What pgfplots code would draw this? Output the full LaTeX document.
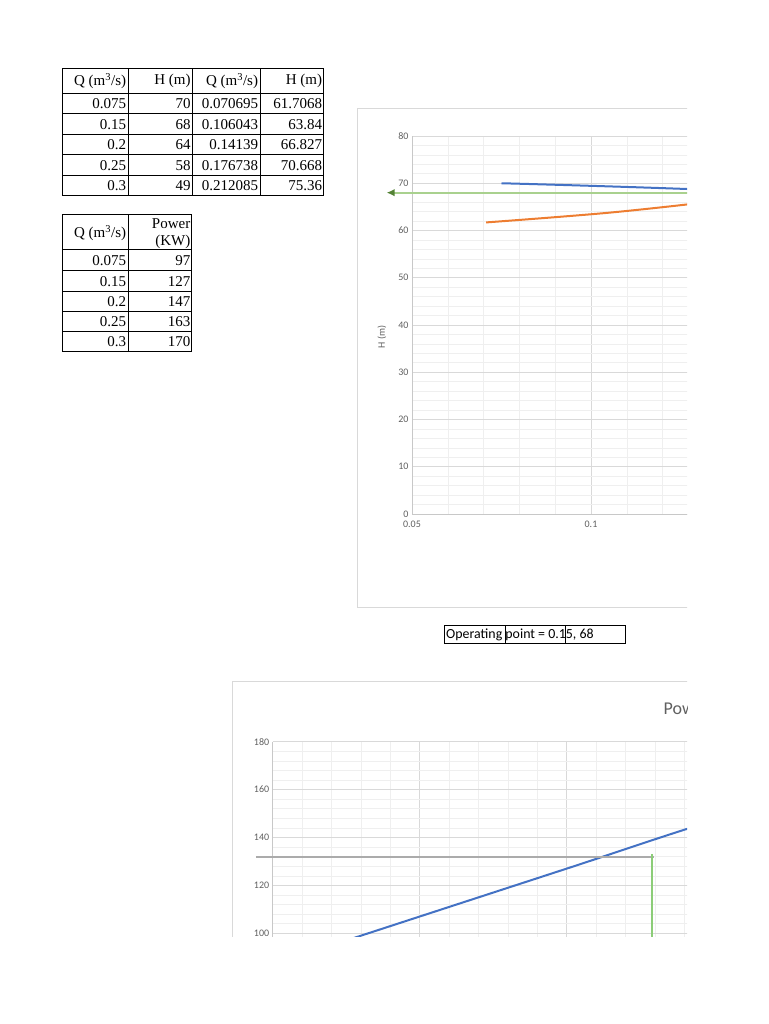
\documentclass[border=0pt]{standalone}
\usepackage{pgfplots}
\pgfplotsset{compat=1.18}
\usepackage{fontspec}
\setmainfont{Liberation Serif}
\newfontfamily\carlito{Carlito}
\usetikzlibrary{arrows.meta}

\definecolor{gridmaj}{HTML}{D9D9D9}
\definecolor{gridmin}{HTML}{EFEFEF}
\definecolor{axisgray}{HTML}{C8C8C8}
\definecolor{tickgray}{HTML}{606060}
\definecolor{framegray}{HTML}{D9D9D9}
\definecolor{xlblue}{HTML}{4472C4}
\definecolor{xlorange}{HTML}{ED7D31}
\definecolor{paleg}{HTML}{A9D18E}
\definecolor{darkg}{HTML}{548235}
\definecolor{brightg}{RGB}{140,205,120}
\definecolor{refgray}{HTML}{ABABAB}

\newcommand{\tabfont}{\fontsize{15}{16}\selectfont}
\newcommand{\msq}{m\textsuperscript{3}/s}

% shared look of the two Excel-like charts
\pgfplotsset{xlchart/.style={
  scale only axis, clip=false,
  grid=both,
  major grid style={draw=gridmaj, line width=0.8pt},
  minor grid style={draw=gridmin, line width=0.6pt},
  axis x line*=bottom, axis y line*=left,
  axis line style={draw=axisgray, line width=0.9pt},
  major tick length=0pt, minor tick length=0pt,
  /pgf/number format/assume math mode=true,
  scaled x ticks=false,
  xticklabel style={/pgf/number format/fixed, /pgf/number format/precision=3, yshift=-3pt},
  ticklabel style={font=\carlito\fontsize{10}{12}\selectfont, text=tickgray},
  label style={font=\carlito\fontsize{10}{12}\selectfont, text=tickgray},
}}

\begin{document}
\begin{tikzpicture}[x=1pt,y=1pt]
\path[use as bounding box] (0,0) rectangle (768,1024);
\begin{scope}
\clip (0,87) rectangle (687,1024);

% ---------- table 1 : pump and system curve ----------
\node[anchor=east, inner sep=0pt, font=\tabfont] at (126.3,{1024-80.8}) {Q (\msq)};
\node[anchor=east, inner sep=0pt, font=\tabfont] at (190.8,{1024-80.8}) {H (m)};
\node[anchor=east, inner sep=0pt, font=\tabfont] at (258.2,{1024-80.8}) {Q (\msq)};
\node[anchor=east, inner sep=0pt, font=\tabfont] at (322.3,{1024-80.8}) {H (m)};
\foreach \y/\a/\b/\c/\d in {103.7/0.075/70/0.070695/61.7068,
                            124.3/0.15/68/0.106043/63.84,
                            144.8/0.2/64/0.14139/66.827,
                            165.2/0.25/58/0.176738/70.668,
                            185.5/0.3/49/0.212085/75.36} {
  \node[anchor=east, inner sep=0pt, font=\tabfont] at (126.3,{1024-\y}) {\a};
  \node[anchor=east, inner sep=0pt, font=\tabfont] at (190.8,{1024-\y}) {\b};
  \node[anchor=east, inner sep=0pt, font=\tabfont] at (258.2,{1024-\y}) {\c};
  \node[anchor=east, inner sep=0pt, font=\tabfont] at (322.3,{1024-\y}) {\d};
}
\draw[line width=1pt] (62.7,{1024-68.3}) rectangle (323.5,{1024-195.7});
\foreach \y in {93.3,114,134.5,155,175.3}
  \draw[line width=1pt] (62.7,{1024-\y}) -- (323.5,{1024-\y});
\foreach \x in {128.3,192,260}
  \draw[line width=1pt] (\x,{1024-68.3}) -- (\x,{1024-195.7});

% ---------- table 2 : power ----------
\node[anchor=east, inner sep=0pt, font=\tabfont] at (126.3,{1024-233}) {Q (\msq)};
\node[anchor=east, inner sep=0pt, font=\tabfont] at (190.5,{1024-224}) {Power};
\node[anchor=east, inner sep=0pt, font=\tabfont] at (190.5,{1024-241.5}) {(KW)};
\foreach \y/\a/\b in {260.5/0.075/97, 281.3/0.15/127, 301.6/0.2/147,
                      321.7/0.25/163, 341.7/0.3/170} {
  \node[anchor=east, inner sep=0pt, font=\tabfont] at (126.3,{1024-\y}) {\a};
  \node[anchor=east, inner sep=0pt, font=\tabfont] at (190.5,{1024-\y}) {\b};
}
\draw[line width=1pt] (62.7,{1024-215}) rectangle (191.7,{1024-351.7});
\foreach \y in {250,271,291.5,311.7,331.7}
  \draw[line width=1pt] (62.7,{1024-\y}) -- (191.7,{1024-\y});
\draw[line width=1pt] (128.3,{1024-215}) -- (128.3,{1024-351.7});

% ---------- operating point cells ----------
\node[anchor=west, inner sep=0pt, font=\carlito\fontsize{13.9}{15}\selectfont]
  at (446,{1024-635}) {Operating point = 0.15, 68};
\draw[line width=1pt] (444.3,{1024-626}) rectangle (625.7,{1024-644});
\foreach \x in {505.7,565.7}
  \draw[line width=1pt] (\x,{1024-626}) -- (\x,{1024-644});

% ---------- chart frames ----------
\draw[framegray, line width=1pt] (357.7,{1024-108.7}) rectangle (800,{1024-608});
\draw[framegray, line width=1pt] (232,{1024-682}) rectangle (800,-50);

% ---------- chart 1 : H against Q ----------
\begin{axis}[xlchart,
  at={(412pt,510pt)}, anchor=south west,
  width=286.4pt, height=378pt,
  xmin=0.05, xmax=0.13, ymin=0, ymax=80,
  xtick={0.05,0.1}, minor xtick={0.06,0.07,0.08,0.09,0.11,0.12},
  ytick={0,10,...,80}, minor y tick num=4,
  ylabel={H (m)},
  ylabel style={at={(axis description cs:-0.1047,0.468)}, anchor=center},
]
\addplot[xlblue, line width=2pt, smooth] coordinates
  {(0.075,70) (0.15,68) (0.2,64) (0.25,58) (0.3,49)};
\addplot[xlorange, line width=2pt, smooth] coordinates
  {(0.070695,61.7068) (0.106043,63.84) (0.14139,66.827) (0.176738,70.668) (0.212085,75.36)};
\addplot[paleg, line width=1.8pt, -{Latex[length=8pt, width=7.5pt, color=darkg]}] coordinates
  {(0.15,68) (0.0429,68)};
\end{axis}

% ---------- chart 2 : power against Q ----------
\node[anchor=base west, inner sep=0pt, text=tickgray, font=\carlito\fontsize{18}{20}\selectfont]
  at (663.5,{1024-715}) {Power (KW)};
\begin{axis}[xlchart,
  at={(272.7pt,66.75pt)}, anchor=south west,
  width=426.3pt, height=215.6pt,
  xmin=0.05, xmax=0.195, ymin=90, ymax=180,
  xtick={0.05,0.1,0.15}, xticklabels={},
  minor xtick={0.06,0.07,0.08,0.09,0.11,0.12,0.13,0.14,0.16,0.17,0.18,0.19},
  ytick={100,120,...,180}, minor y tick num=4,
]
\addplot[xlblue, line width=2pt, smooth] coordinates
  {(0.075,97) (0.15,127) (0.2,147) (0.25,163) (0.3,170)};
\addplot[refgray, line width=2.2pt] coordinates {(0.0443,131.8) (0.1797,131.8)};
\addplot[brightg, line width=1.8pt] coordinates {(0.1791,133) (0.1791,60)};
\end{axis}
\end{scope}
\end{tikzpicture}
\end{document}
